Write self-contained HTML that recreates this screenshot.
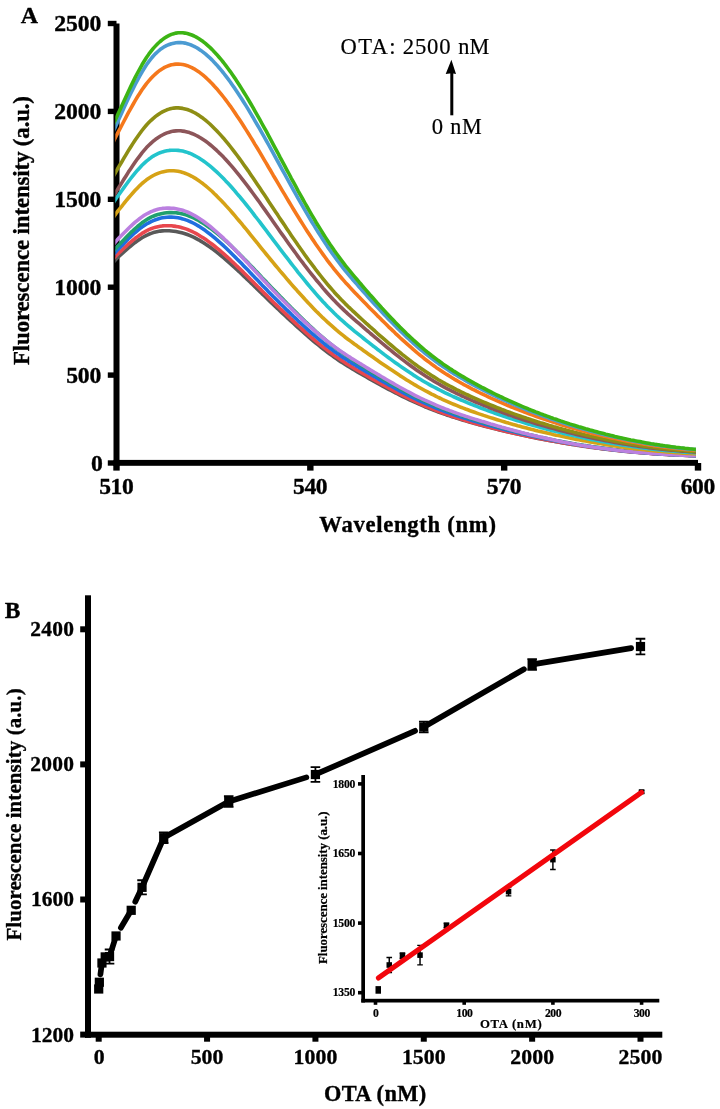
<!DOCTYPE html>
<html lang="en"><head><meta charset="utf-8"><title>Fluorescence spectra and OTA calibration</title>
<style>html,body{margin:0;padding:0;background:#fff}body{width:720px;height:1109px;overflow:hidden}svg{display:block}</style>
</head><body>
<svg width="720" height="1109" viewBox="0 0 720 1109" font-family="'Liberation Serif', serif" fill="#000">
<defs><clipPath id="clipA"><rect x="115.3" y="0" width="580.6" height="470"/></clipPath></defs>
<rect x="113.5" y="23.5" width="6" height="442.3" fill="#000"/>
<rect x="113.5" y="459.9" width="584.5" height="5.9" fill="#000"/>
<rect x="107.8" y="460.30" width="8.7" height="5.4" fill="#000"/>
<rect x="107.8" y="372.40" width="8.7" height="5.4" fill="#000"/>
<rect x="107.8" y="284.50" width="8.7" height="5.4" fill="#000"/>
<rect x="107.8" y="196.60" width="8.7" height="5.4" fill="#000"/>
<rect x="107.8" y="108.70" width="8.7" height="5.4" fill="#000"/>
<rect x="107.8" y="20.80" width="8.7" height="5.4" fill="#000"/>
<rect x="113.30" y="463" width="6.4" height="7.6" fill="#000"/>
<rect x="307.13" y="463" width="6.4" height="7.6" fill="#000"/>
<rect x="500.97" y="463" width="6.4" height="7.6" fill="#000"/>
<rect x="694.80" y="463" width="6.4" height="7.6" fill="#000"/>
<path d="M112.6,263.3 L114.9,260.4 L117.1,258.1 L119.4,256.0 L121.7,253.9 L123.9,251.9 L126.2,249.9 L128.4,247.9 L130.7,246.0 L133.0,244.2 L135.2,242.4 L137.5,240.8 L139.8,239.2 L142.0,237.8 L144.3,236.5 L146.5,235.3 L148.8,234.3 L151.1,233.4 L153.3,232.6 L155.6,232.0 L157.9,231.5 L160.1,231.1 L162.4,230.9 L164.6,230.8 L166.9,230.7 L169.2,230.8 L171.4,231.0 L173.7,231.2 L176.0,231.6 L178.2,232.0 L180.5,232.5 L182.7,233.1 L185.0,233.7 L187.3,234.5 L189.5,235.4 L191.8,236.4 L194.1,237.4 L196.3,238.6 L198.6,239.8 L200.8,241.1 L203.1,242.5 L205.4,244.0 L207.6,245.5 L209.9,247.1 L212.2,248.7 L214.4,250.4 L216.7,252.1 L218.9,253.9 L221.2,255.8 L223.5,257.7 L225.7,259.6 L228.0,261.6 L230.3,263.6 L232.5,265.6 L234.8,267.6 L237.0,269.7 L239.3,271.8 L241.6,274.0 L243.8,276.1 L246.1,278.3 L248.4,280.4 L250.6,282.6 L252.9,284.8 L255.1,287.0 L257.4,289.2 L259.7,291.4 L261.9,293.6 L264.2,295.8 L266.5,298.0 L268.7,300.2 L271.0,302.4 L273.2,304.5 L275.5,306.7 L277.8,308.8 L280.0,310.9 L282.3,313.1 L284.6,315.2 L286.8,317.3 L289.1,319.4 L291.3,321.5 L293.6,323.5 L295.9,325.6 L298.1,327.7 L300.4,329.7 L302.7,331.7 L304.9,333.7 L307.2,335.7 L309.4,337.7 L311.7,339.6 L314.0,341.5 L316.2,343.4 L318.5,345.2 L320.8,347.0 L323.0,348.8 L325.3,350.6 L327.5,352.3 L329.8,354.0 L332.1,355.6 L334.3,357.2 L336.6,358.8 L338.9,360.4 L341.1,361.9 L343.4,363.3 L345.6,364.8 L347.9,366.2 L350.2,367.5 L352.4,368.9 L354.7,370.2 L357.0,371.6 L359.2,372.9 L361.5,374.2 L363.7,375.5 L366.0,376.8 L368.3,378.1 L370.5,379.4 L372.8,380.6 L375.1,381.9 L377.3,383.2 L379.6,384.4 L381.8,385.6 L384.1,386.9 L386.4,388.1 L388.6,389.3 L390.9,390.5 L393.2,391.7 L395.4,392.9 L397.7,394.0 L399.9,395.2 L402.2,396.3 L404.5,397.4 L406.7,398.5 L409.0,399.6 L411.3,400.7 L413.5,401.7 L415.8,402.7 L418.0,403.7 L420.3,404.7 L422.6,405.7 L424.8,406.7 L427.1,407.6 L429.4,408.5 L431.6,409.4 L433.9,410.3 L436.1,411.1 L438.4,412.0 L440.7,412.8 L442.9,413.6 L445.2,414.4 L447.5,415.2 L449.7,415.9 L452.0,416.7 L454.2,417.4 L456.5,418.1 L458.8,418.8 L461.0,419.5 L463.3,420.2 L465.6,420.8 L467.8,421.5 L470.1,422.2 L472.3,422.8 L474.6,423.4 L476.9,424.0 L479.1,424.7 L481.4,425.3 L483.7,425.9 L485.9,426.5 L488.2,427.0 L490.4,427.6 L492.7,428.2 L495.0,428.8 L497.2,429.3 L499.5,429.9 L501.8,430.4 L504.0,431.0 L506.3,431.5 L508.5,432.0 L510.8,432.6 L513.1,433.1 L515.3,433.6 L517.6,434.1 L519.9,434.6 L522.1,435.1 L524.4,435.6 L526.6,436.1 L528.9,436.5 L531.2,437.0 L533.4,437.5 L535.7,437.9 L538.0,438.4 L540.2,438.8 L542.5,439.3 L544.7,439.7 L547.0,440.1 L549.3,440.5 L551.5,440.9 L553.8,441.3 L556.1,441.7 L558.3,442.1 L560.6,442.5 L562.8,442.9 L565.1,443.3 L567.4,443.7 L569.6,444.0 L571.9,444.4 L574.2,444.7 L576.4,445.1 L578.7,445.4 L580.9,445.8 L583.2,446.1 L585.5,446.4 L587.7,446.8 L590.0,447.1 L592.3,447.4 L594.5,447.7 L596.8,448.0 L599.0,448.3 L601.3,448.6 L603.6,448.9 L605.8,449.2 L608.1,449.4 L610.4,449.7 L612.6,450.0 L614.9,450.2 L617.1,450.5 L619.4,450.7 L621.7,451.0 L623.9,451.2 L626.2,451.4 L628.5,451.6 L630.7,451.9 L633.0,452.1 L635.2,452.3 L637.5,452.5 L639.8,452.6 L642.0,452.8 L644.3,453.0 L646.6,453.2 L648.8,453.3 L651.1,453.5 L653.3,453.6 L655.6,453.8 L657.9,453.9 L660.1,454.1 L662.4,454.2 L664.7,454.4 L666.9,454.5 L669.2,454.6 L671.4,454.7 L673.7,454.8 L676.0,455.0 L678.2,455.1 L680.5,455.2 L682.8,455.3 L685.0,455.4 L687.3,455.4 L689.5,455.5 L691.8,455.6 L694.1,455.7 L696.3,455.8 L698.6,455.9" fill="none" stroke="#595959" stroke-width="3.6" stroke-linejoin="round" stroke-linecap="butt" clip-path="url(#clipA)"/>
<path d="M112.6,259.9 L114.9,257.0 L117.1,254.6 L119.4,252.4 L121.7,250.3 L123.9,248.2 L126.2,246.1 L128.4,244.0 L130.7,242.1 L133.0,240.1 L135.2,238.3 L137.5,236.6 L139.8,234.9 L142.0,233.4 L144.3,232.1 L146.5,230.8 L148.8,229.7 L151.1,228.7 L153.3,227.9 L155.6,227.2 L157.9,226.7 L160.1,226.3 L162.4,225.9 L164.6,225.8 L166.9,225.7 L169.2,225.7 L171.4,225.8 L173.7,226.1 L176.0,226.4 L178.2,226.8 L180.5,227.3 L182.7,227.9 L185.0,228.6 L187.3,229.4 L189.5,230.4 L191.8,231.4 L194.1,232.5 L196.3,233.7 L198.6,235.0 L200.8,236.4 L203.1,237.8 L205.4,239.3 L207.6,240.9 L209.9,242.6 L212.2,244.3 L214.4,246.0 L216.7,247.9 L218.9,249.7 L221.2,251.7 L223.5,253.6 L225.7,255.6 L228.0,257.7 L230.3,259.7 L232.5,261.9 L234.8,264.0 L237.0,266.2 L239.3,268.3 L241.6,270.5 L243.8,272.8 L246.1,275.0 L248.4,277.2 L250.6,279.5 L252.9,281.7 L255.1,284.0 L257.4,286.3 L259.7,288.5 L261.9,290.8 L264.2,293.1 L266.5,295.3 L268.7,297.5 L271.0,299.8 L273.2,302.0 L275.5,304.2 L277.8,306.3 L280.0,308.5 L282.3,310.6 L284.6,312.8 L286.8,314.9 L289.1,317.1 L291.3,319.2 L293.6,321.3 L295.9,323.4 L298.1,325.5 L300.4,327.5 L302.7,329.6 L304.9,331.6 L307.2,333.6 L309.4,335.6 L311.7,337.6 L314.0,339.5 L316.2,341.4 L318.5,343.3 L320.8,345.1 L323.0,346.9 L325.3,348.7 L327.5,350.4 L329.8,352.1 L332.1,353.8 L334.3,355.5 L336.6,357.1 L338.9,358.6 L341.1,360.1 L343.4,361.6 L345.6,363.1 L347.9,364.5 L350.2,365.9 L352.4,367.3 L354.7,368.6 L357.0,370.0 L359.2,371.3 L361.5,372.6 L363.7,373.9 L366.0,375.3 L368.3,376.6 L370.5,377.9 L372.8,379.2 L375.1,380.5 L377.3,381.7 L379.6,383.0 L381.8,384.3 L384.1,385.5 L386.4,386.8 L388.6,388.0 L390.9,389.2 L393.2,390.4 L395.4,391.6 L397.7,392.8 L399.9,393.9 L402.2,395.1 L404.5,396.2 L406.7,397.4 L409.0,398.5 L411.3,399.6 L413.5,400.6 L415.8,401.7 L418.0,402.7 L420.3,403.8 L422.6,404.8 L424.8,405.8 L427.1,406.7 L429.4,407.7 L431.6,408.6 L433.9,409.5 L436.1,410.4 L438.4,411.3 L440.7,412.1 L442.9,413.0 L445.2,413.8 L447.5,414.6 L449.7,415.4 L452.0,416.2 L454.2,416.9 L456.5,417.7 L458.8,418.4 L461.0,419.1 L463.3,419.8 L465.6,420.5 L467.8,421.2 L470.1,421.8 L472.3,422.5 L474.6,423.2 L476.9,423.8 L479.1,424.4 L481.4,425.0 L483.7,425.6 L485.9,426.3 L488.2,426.9 L490.4,427.4 L492.7,428.0 L495.0,428.6 L497.2,429.2 L499.5,429.7 L501.8,430.3 L504.0,430.8 L506.3,431.4 L508.5,431.9 L510.8,432.4 L513.1,433.0 L515.3,433.5 L517.6,434.0 L519.9,434.5 L522.1,435.0 L524.4,435.5 L526.6,435.9 L528.9,436.4 L531.2,436.9 L533.4,437.3 L535.7,437.8 L538.0,438.2 L540.2,438.7 L542.5,439.1 L544.7,439.6 L547.0,440.0 L549.3,440.4 L551.5,440.8 L553.8,441.2 L556.1,441.6 L558.3,442.0 L560.6,442.4 L562.8,442.8 L565.1,443.2 L567.4,443.5 L569.6,443.9 L571.9,444.2 L574.2,444.6 L576.4,445.0 L578.7,445.3 L580.9,445.6 L583.2,446.0 L585.5,446.3 L587.7,446.6 L590.0,446.9 L592.3,447.2 L594.5,447.6 L596.8,447.9 L599.0,448.2 L601.3,448.4 L603.6,448.7 L605.8,449.0 L608.1,449.3 L610.4,449.6 L612.6,449.8 L614.9,450.1 L617.1,450.3 L619.4,450.6 L621.7,450.8 L623.9,451.1 L626.2,451.3 L628.5,451.5 L630.7,451.7 L633.0,451.9 L635.2,452.2 L637.5,452.3 L639.8,452.5 L642.0,452.7 L644.3,452.9 L646.6,453.1 L648.8,453.2 L651.1,453.4 L653.3,453.6 L655.6,453.7 L657.9,453.9 L660.1,454.0 L662.4,454.1 L664.7,454.3 L666.9,454.4 L669.2,454.5 L671.4,454.6 L673.7,454.8 L676.0,454.9 L678.2,455.0 L680.5,455.1 L682.8,455.2 L685.0,455.3 L687.3,455.4 L689.5,455.5 L691.8,455.5 L694.1,455.6 L696.3,455.7 L698.6,455.8" fill="none" stroke="#E8474E" stroke-width="3.6" stroke-linejoin="round" stroke-linecap="butt" clip-path="url(#clipA)"/>
<path d="M112.6,255.9 L114.9,252.9 L117.1,250.3 L119.4,248.0 L121.7,245.7 L123.9,243.4 L126.2,241.1 L128.4,238.8 L130.7,236.6 L133.0,234.5 L135.2,232.5 L137.5,230.6 L139.8,228.7 L142.0,227.0 L144.3,225.5 L146.5,224.0 L148.8,222.8 L151.1,221.6 L153.3,220.6 L155.6,219.7 L157.9,219.0 L160.1,218.3 L162.4,217.8 L164.6,217.5 L166.9,217.2 L169.2,217.1 L171.4,217.1 L173.7,217.2 L176.0,217.5 L178.2,217.8 L180.5,218.3 L182.7,218.9 L185.0,219.6 L187.3,220.4 L189.5,221.3 L191.8,222.4 L194.1,223.5 L196.3,224.8 L198.6,226.1 L200.8,227.5 L203.1,229.0 L205.4,230.6 L207.6,232.3 L209.9,234.0 L212.2,235.8 L214.4,237.7 L216.7,239.6 L218.9,241.6 L221.2,243.6 L223.5,245.7 L225.7,247.8 L228.0,250.0 L230.3,252.2 L232.5,254.4 L234.8,256.7 L237.0,259.0 L239.3,261.3 L241.6,263.6 L243.8,265.9 L246.1,268.3 L248.4,270.6 L250.6,273.0 L252.9,275.4 L255.1,277.8 L257.4,280.1 L259.7,282.5 L261.9,284.9 L264.2,287.2 L266.5,289.6 L268.7,291.9 L271.0,294.2 L273.2,296.5 L275.5,298.8 L277.8,301.1 L280.0,303.3 L282.3,305.5 L284.6,307.7 L286.8,309.9 L289.1,312.1 L291.3,314.3 L293.6,316.5 L295.9,318.6 L298.1,320.8 L300.4,322.9 L302.7,325.0 L304.9,327.0 L307.2,329.1 L309.4,331.1 L311.7,333.1 L314.0,335.1 L316.2,337.0 L318.5,338.9 L320.8,340.8 L323.0,342.7 L325.3,344.5 L327.5,346.3 L329.8,348.0 L332.1,349.7 L334.3,351.4 L336.6,353.0 L338.9,354.6 L341.1,356.2 L343.4,357.7 L345.6,359.1 L347.9,360.6 L350.2,362.0 L352.4,363.4 L354.7,364.8 L357.0,366.2 L359.2,367.6 L361.5,368.9 L363.7,370.3 L366.0,371.6 L368.3,373.0 L370.5,374.3 L372.8,375.6 L375.1,377.0 L377.3,378.3 L379.6,379.6 L381.8,380.9 L384.1,382.2 L386.4,383.5 L388.6,384.8 L390.9,386.0 L393.2,387.3 L395.4,388.5 L397.7,389.7 L399.9,391.0 L402.2,392.2 L404.5,393.3 L406.7,394.5 L409.0,395.7 L411.3,396.8 L413.5,397.9 L415.8,399.0 L418.0,400.1 L420.3,401.2 L422.6,402.2 L424.8,403.2 L427.1,404.2 L429.4,405.2 L431.6,406.1 L433.9,407.1 L436.1,408.0 L438.4,408.9 L440.7,409.8 L442.9,410.6 L445.2,411.5 L447.5,412.3 L449.7,413.1 L452.0,413.9 L454.2,414.7 L456.5,415.5 L458.8,416.2 L461.0,417.0 L463.3,417.7 L465.6,418.4 L467.8,419.1 L470.1,419.8 L472.3,420.5 L474.6,421.2 L476.9,421.8 L479.1,422.5 L481.4,423.1 L483.7,423.8 L485.9,424.4 L488.2,425.0 L490.4,425.7 L492.7,426.3 L495.0,426.9 L497.2,427.5 L499.5,428.1 L501.8,428.7 L504.0,429.3 L506.3,429.9 L508.5,430.4 L510.8,431.0 L513.1,431.6 L515.3,432.1 L517.6,432.7 L519.9,433.2 L522.1,433.7 L524.4,434.3 L526.6,434.8 L528.9,435.3 L531.2,435.8 L533.4,436.3 L535.7,436.8 L538.0,437.3 L540.2,437.7 L542.5,438.2 L544.7,438.7 L547.0,439.1 L549.3,439.6 L551.5,440.0 L553.8,440.5 L556.1,440.9 L558.3,441.3 L560.6,441.7 L562.8,442.1 L565.1,442.5 L567.4,442.9 L569.6,443.3 L571.9,443.7 L574.2,444.1 L576.4,444.5 L578.7,444.8 L580.9,445.2 L583.2,445.5 L585.5,445.9 L587.7,446.2 L590.0,446.5 L592.3,446.9 L594.5,447.2 L596.8,447.5 L599.0,447.8 L601.3,448.1 L603.6,448.4 L605.8,448.7 L608.1,449.0 L610.4,449.3 L612.6,449.6 L614.9,449.8 L617.1,450.1 L619.4,450.3 L621.7,450.6 L623.9,450.8 L626.2,451.1 L628.5,451.3 L630.7,451.5 L633.0,451.7 L635.2,451.9 L637.5,452.1 L639.8,452.3 L642.0,452.5 L644.3,452.7 L646.6,452.9 L648.8,453.1 L651.1,453.2 L653.3,453.4 L655.6,453.6 L657.9,453.7 L660.1,453.9 L662.4,454.0 L664.7,454.1 L666.9,454.3 L669.2,454.4 L671.4,454.5 L673.7,454.7 L676.0,454.8 L678.2,454.9 L680.5,455.0 L682.8,455.1 L685.0,455.2 L687.3,455.3 L689.5,455.4 L691.8,455.5 L694.1,455.6 L696.3,455.6 L698.6,455.7" fill="none" stroke="#1F6FE0" stroke-width="3.6" stroke-linejoin="round" stroke-linecap="butt" clip-path="url(#clipA)"/>
<path d="M112.6,252.5 L114.9,249.4 L117.1,246.8 L119.4,244.4 L121.7,242.0 L123.9,239.7 L126.2,237.3 L128.4,235.0 L130.7,232.7 L133.0,230.6 L135.2,228.5 L137.5,226.5 L139.8,224.6 L142.0,222.8 L144.3,221.2 L146.5,219.8 L148.8,218.4 L151.1,217.2 L153.3,216.2 L155.6,215.3 L157.9,214.5 L160.1,213.9 L162.4,213.4 L164.6,213.0 L166.9,212.7 L169.2,212.6 L171.4,212.6 L173.7,212.7 L176.0,212.8 L178.2,213.1 L180.5,213.5 L182.7,214.0 L185.0,214.6 L187.3,215.4 L189.5,216.2 L191.8,217.1 L194.1,218.2 L196.3,219.3 L198.6,220.5 L200.8,221.9 L203.1,223.3 L205.4,224.7 L207.6,226.3 L209.9,227.9 L212.2,229.6 L214.4,231.3 L216.7,233.1 L218.9,235.0 L221.2,236.9 L223.5,238.9 L225.7,240.9 L228.0,243.0 L230.3,245.1 L232.5,247.3 L234.8,249.5 L237.0,251.7 L239.3,253.9 L241.6,256.2 L243.8,258.5 L246.1,260.8 L248.4,263.1 L250.6,265.5 L252.9,267.8 L255.1,270.2 L257.4,272.6 L259.7,275.0 L261.9,277.4 L264.2,279.7 L266.5,282.1 L268.7,284.5 L271.0,286.9 L273.2,289.2 L275.5,291.6 L277.8,293.9 L280.0,296.3 L282.3,298.6 L284.6,300.9 L286.8,303.2 L289.1,305.5 L291.3,307.8 L293.6,310.1 L295.9,312.3 L298.1,314.6 L300.4,316.8 L302.7,319.0 L304.9,321.2 L307.2,323.4 L309.4,325.5 L311.7,327.6 L314.0,329.7 L316.2,331.8 L318.5,333.8 L320.8,335.8 L323.0,337.7 L325.3,339.6 L327.5,341.5 L329.8,343.4 L332.1,345.2 L334.3,347.0 L336.6,348.7 L338.9,350.4 L341.1,352.0 L343.4,353.6 L345.6,355.2 L347.9,356.7 L350.2,358.2 L352.4,359.7 L354.7,361.2 L357.0,362.6 L359.2,364.1 L361.5,365.5 L363.7,366.9 L366.0,368.3 L368.3,369.8 L370.5,371.2 L372.8,372.6 L375.1,373.9 L377.3,375.3 L379.6,376.7 L381.8,378.1 L384.1,379.4 L386.4,380.7 L388.6,382.1 L390.9,383.4 L393.2,384.7 L395.4,386.0 L397.7,387.2 L399.9,388.5 L402.2,389.7 L404.5,391.0 L406.7,392.2 L409.0,393.4 L411.3,394.5 L413.5,395.7 L415.8,396.8 L418.0,398.0 L420.3,399.1 L422.6,400.1 L424.8,401.2 L427.1,402.2 L429.4,403.2 L431.6,404.2 L433.9,405.2 L436.1,406.1 L438.4,407.1 L440.7,408.0 L442.9,408.9 L445.2,409.8 L447.5,410.6 L449.7,411.5 L452.0,412.3 L454.2,413.1 L456.5,413.9 L458.8,414.7 L461.0,415.4 L463.3,416.2 L465.6,416.9 L467.8,417.7 L470.1,418.4 L472.3,419.1 L474.6,419.8 L476.9,420.5 L479.1,421.2 L481.4,421.8 L483.7,422.5 L485.9,423.2 L488.2,423.8 L490.4,424.5 L492.7,425.1 L495.0,425.8 L497.2,426.4 L499.5,427.0 L501.8,427.7 L504.0,428.3 L506.3,428.9 L508.5,429.5 L510.8,430.1 L513.1,430.7 L515.3,431.2 L517.6,431.8 L519.9,432.4 L522.1,432.9 L524.4,433.5 L526.6,434.0 L528.9,434.6 L531.2,435.1 L533.4,435.6 L535.7,436.1 L538.0,436.7 L540.2,437.2 L542.5,437.6 L544.7,438.1 L547.0,438.6 L549.3,439.1 L551.5,439.5 L553.8,440.0 L556.1,440.5 L558.3,440.9 L560.6,441.3 L562.8,441.8 L565.1,442.2 L567.4,442.6 L569.6,443.0 L571.9,443.4 L574.2,443.8 L576.4,444.2 L578.7,444.5 L580.9,444.9 L583.2,445.3 L585.5,445.6 L587.7,446.0 L590.0,446.3 L592.3,446.7 L594.5,447.0 L596.8,447.3 L599.0,447.6 L601.3,448.0 L603.6,448.3 L605.8,448.6 L608.1,448.9 L610.4,449.1 L612.6,449.4 L614.9,449.7 L617.1,449.9 L619.4,450.2 L621.7,450.5 L623.9,450.7 L626.2,450.9 L628.5,451.2 L630.7,451.4 L633.0,451.6 L635.2,451.8 L637.5,452.0 L639.8,452.2 L642.0,452.4 L644.3,452.6 L646.6,452.8 L648.8,453.0 L651.1,453.2 L653.3,453.3 L655.6,453.5 L657.9,453.7 L660.1,453.8 L662.4,454.0 L664.7,454.1 L666.9,454.2 L669.2,454.4 L671.4,454.5 L673.7,454.6 L676.0,454.7 L678.2,454.9 L680.5,455.0 L682.8,455.1 L685.0,455.2 L687.3,455.3 L689.5,455.4 L691.8,455.5 L694.1,455.6 L696.3,455.6 L698.6,455.7" fill="none" stroke="#1FA06E" stroke-width="3.6" stroke-linejoin="round" stroke-linecap="butt" clip-path="url(#clipA)"/>
<path d="M112.6,245.7 L114.9,242.6 L117.1,240.0 L119.4,237.6 L121.7,235.3 L123.9,233.0 L126.2,230.7 L128.4,228.5 L130.7,226.3 L133.0,224.2 L135.2,222.2 L137.5,220.3 L139.8,218.5 L142.0,216.9 L144.3,215.3 L146.5,214.0 L148.8,212.8 L151.1,211.7 L153.3,210.8 L155.6,210.0 L157.9,209.3 L160.1,208.8 L162.4,208.4 L164.6,208.2 L166.9,208.1 L169.2,208.1 L171.4,208.2 L173.7,208.4 L176.0,208.7 L178.2,209.2 L180.5,209.7 L182.7,210.3 L185.0,211.1 L187.3,212.0 L189.5,213.0 L191.8,214.1 L194.1,215.3 L196.3,216.6 L198.6,218.0 L200.8,219.5 L203.1,221.0 L205.4,222.7 L207.6,224.4 L209.9,226.2 L212.2,228.1 L214.4,230.0 L216.7,232.0 L218.9,234.0 L221.2,236.1 L223.5,238.2 L225.7,240.4 L228.0,242.6 L230.3,244.9 L232.5,247.2 L234.8,249.5 L237.0,251.8 L239.3,254.2 L241.6,256.6 L243.8,259.0 L246.1,261.4 L248.4,263.8 L250.6,266.3 L252.9,268.7 L255.1,271.1 L257.4,273.6 L259.7,276.0 L261.9,278.5 L264.2,280.9 L266.5,283.3 L268.7,285.7 L271.0,288.1 L273.2,290.5 L275.5,292.8 L277.8,295.2 L280.0,297.5 L282.3,299.8 L284.6,302.1 L286.8,304.3 L289.1,306.6 L291.3,308.8 L293.6,311.1 L295.9,313.3 L298.1,315.5 L300.4,317.6 L302.7,319.8 L304.9,321.9 L307.2,324.0 L309.4,326.0 L311.7,328.1 L314.0,330.1 L316.2,332.0 L318.5,334.0 L320.8,335.9 L323.0,337.8 L325.3,339.6 L327.5,341.4 L329.8,343.2 L332.1,344.9 L334.3,346.6 L336.6,348.3 L338.9,349.9 L341.1,351.5 L343.4,353.0 L345.6,354.5 L347.9,356.0 L350.2,357.4 L352.4,358.9 L354.7,360.3 L357.0,361.7 L359.2,363.1 L361.5,364.4 L363.7,365.8 L366.0,367.2 L368.3,368.6 L370.5,370.0 L372.8,371.4 L375.1,372.7 L377.3,374.1 L379.6,375.4 L381.8,376.8 L384.1,378.1 L386.4,379.5 L388.6,380.8 L390.9,382.1 L393.2,383.4 L395.4,384.7 L397.7,386.0 L399.9,387.3 L402.2,388.5 L404.5,389.8 L406.7,391.0 L409.0,392.2 L411.3,393.4 L413.5,394.6 L415.8,395.8 L418.0,396.9 L420.3,398.0 L422.6,399.1 L424.8,400.2 L427.1,401.2 L429.4,402.2 L431.6,403.2 L433.9,404.2 L436.1,405.2 L438.4,406.1 L440.7,407.1 L442.9,408.0 L445.2,408.9 L447.5,409.7 L449.7,410.6 L452.0,411.4 L454.2,412.3 L456.5,413.1 L458.8,413.9 L461.0,414.7 L463.3,415.4 L465.6,416.2 L467.8,416.9 L470.1,417.7 L472.3,418.4 L474.6,419.1 L476.9,419.8 L479.1,420.5 L481.4,421.2 L483.7,421.8 L485.9,422.5 L488.2,423.2 L490.4,423.9 L492.7,424.5 L495.0,425.2 L497.2,425.9 L499.5,426.5 L501.8,427.2 L504.0,427.8 L506.3,428.4 L508.5,429.1 L510.8,429.7 L513.1,430.3 L515.3,430.9 L517.6,431.5 L519.9,432.1 L522.1,432.7 L524.4,433.3 L526.6,433.8 L528.9,434.4 L531.2,434.9 L533.4,435.5 L535.7,436.0 L538.0,436.6 L540.2,437.1 L542.5,437.6 L544.7,438.1 L547.0,438.6 L549.3,439.1 L551.5,439.6 L553.8,440.1 L556.1,440.5 L558.3,441.0 L560.6,441.4 L562.8,441.9 L565.1,442.3 L567.4,442.7 L569.6,443.2 L571.9,443.6 L574.2,444.0 L576.4,444.4 L578.7,444.8 L580.9,445.2 L583.2,445.5 L585.5,445.9 L587.7,446.2 L590.0,446.6 L592.3,446.9 L594.5,447.3 L596.8,447.6 L599.0,447.9 L601.3,448.2 L603.6,448.5 L605.8,448.8 L608.1,449.1 L610.4,449.4 L612.6,449.7 L614.9,449.9 L617.1,450.2 L619.4,450.5 L621.7,450.7 L623.9,451.0 L626.2,451.2 L628.5,451.4 L630.7,451.6 L633.0,451.9 L635.2,452.1 L637.5,452.3 L639.8,452.5 L642.0,452.7 L644.3,452.8 L646.6,453.0 L648.8,453.2 L651.1,453.4 L653.3,453.5 L655.6,453.7 L657.9,453.8 L660.1,454.0 L662.4,454.1 L664.7,454.3 L666.9,454.4 L669.2,454.5 L671.4,454.7 L673.7,454.8 L676.0,454.9 L678.2,455.0 L680.5,455.1 L682.8,455.2 L685.0,455.3 L687.3,455.4 L689.5,455.5 L691.8,455.6 L694.1,455.7 L696.3,455.8 L698.6,455.9" fill="none" stroke="#BB80E0" stroke-width="3.6" stroke-linejoin="round" stroke-linecap="butt" clip-path="url(#clipA)"/>
<path d="M112.6,218.6 L114.9,215.1 L117.1,212.0 L119.4,209.2 L121.7,206.4 L123.9,203.5 L126.2,200.7 L128.4,198.0 L130.7,195.3 L133.0,192.7 L135.2,190.3 L137.5,187.9 L139.8,185.6 L142.0,183.5 L144.3,181.6 L146.5,179.8 L148.8,178.2 L151.1,176.8 L153.3,175.5 L155.6,174.4 L157.9,173.4 L160.1,172.6 L162.4,171.9 L164.6,171.4 L166.9,171.0 L169.2,170.8 L171.4,170.7 L173.7,170.8 L176.0,171.0 L178.2,171.3 L180.5,171.8 L182.7,172.4 L185.0,173.2 L187.3,174.1 L189.5,175.1 L191.8,176.3 L194.1,177.6 L196.3,178.9 L198.6,180.5 L200.8,182.1 L203.1,183.8 L205.4,185.6 L207.6,187.5 L209.9,189.5 L212.2,191.5 L214.4,193.7 L216.7,195.9 L218.9,198.2 L221.2,200.5 L223.5,202.9 L225.7,205.4 L228.0,207.9 L230.3,210.4 L232.5,213.0 L234.8,215.7 L237.0,218.3 L239.3,221.0 L241.6,223.7 L243.8,226.5 L246.1,229.2 L248.4,232.0 L250.6,234.8 L252.9,237.6 L255.1,240.4 L257.4,243.2 L259.7,246.1 L261.9,248.9 L264.2,251.7 L266.5,254.5 L268.7,257.2 L271.0,260.0 L273.2,262.7 L275.5,265.5 L277.8,268.2 L280.0,270.9 L282.3,273.5 L284.6,276.2 L286.8,278.8 L289.1,281.5 L291.3,284.1 L293.6,286.7 L295.9,289.2 L298.1,291.8 L300.4,294.3 L302.7,296.8 L304.9,299.3 L307.2,301.7 L309.4,304.1 L311.7,306.5 L314.0,308.9 L316.2,311.2 L318.5,313.4 L320.8,315.7 L323.0,317.9 L325.3,320.0 L327.5,322.1 L329.8,324.2 L332.1,326.2 L334.3,328.2 L336.6,330.2 L338.9,332.1 L341.1,333.9 L343.4,335.7 L345.6,337.5 L347.9,339.2 L350.2,340.9 L352.4,342.5 L354.7,344.2 L357.0,345.8 L359.2,347.5 L361.5,349.1 L363.7,350.7 L366.0,352.3 L368.3,353.9 L370.5,355.5 L372.8,357.1 L375.1,358.7 L377.3,360.3 L379.6,361.9 L381.8,363.4 L384.1,365.0 L386.4,366.6 L388.6,368.1 L390.9,369.6 L393.2,371.1 L395.4,372.6 L397.7,374.1 L399.9,375.6 L402.2,377.0 L404.5,378.5 L406.7,379.9 L409.0,381.3 L411.3,382.7 L413.5,384.1 L415.8,385.4 L418.0,386.7 L420.3,388.0 L422.6,389.3 L424.8,390.5 L427.1,391.7 L429.4,392.9 L431.6,394.1 L433.9,395.2 L436.1,396.4 L438.4,397.5 L440.7,398.5 L442.9,399.6 L445.2,400.6 L447.5,401.6 L449.7,402.6 L452.0,403.6 L454.2,404.5 L456.5,405.4 L458.8,406.4 L461.0,407.3 L463.3,408.1 L465.6,409.0 L467.8,409.8 L470.1,410.7 L472.3,411.5 L474.6,412.3 L476.9,413.1 L479.1,413.9 L481.4,414.6 L483.7,415.4 L485.9,416.1 L488.2,416.9 L490.4,417.6 L492.7,418.3 L495.0,419.0 L497.2,419.7 L499.5,420.4 L501.8,421.1 L504.0,421.8 L506.3,422.5 L508.5,423.1 L510.8,423.8 L513.1,424.4 L515.3,425.0 L517.6,425.7 L519.9,426.3 L522.1,426.9 L524.4,427.5 L526.6,428.1 L528.9,428.7 L531.2,429.3 L533.4,429.8 L535.7,430.4 L538.0,431.0 L540.2,431.5 L542.5,432.0 L544.7,432.6 L547.0,433.1 L549.3,433.6 L551.5,434.1 L553.8,434.7 L556.1,435.2 L558.3,435.6 L560.6,436.1 L562.8,436.6 L565.1,437.1 L567.4,437.6 L569.6,438.0 L571.9,438.5 L574.2,438.9 L576.4,439.4 L578.7,439.8 L580.9,440.2 L583.2,440.7 L585.5,441.1 L587.7,441.5 L590.0,441.9 L592.3,442.3 L594.5,442.7 L596.8,443.1 L599.0,443.5 L601.3,443.8 L603.6,444.2 L605.8,444.6 L608.1,444.9 L610.4,445.3 L612.6,445.6 L614.9,446.0 L617.1,446.3 L619.4,446.6 L621.7,446.9 L623.9,447.3 L626.2,447.6 L628.5,447.9 L630.7,448.2 L633.0,448.4 L635.2,448.7 L637.5,449.0 L639.8,449.3 L642.0,449.5 L644.3,449.8 L646.6,450.0 L648.8,450.2 L651.1,450.5 L653.3,450.7 L655.6,450.9 L657.9,451.1 L660.1,451.3 L662.4,451.5 L664.7,451.7 L666.9,451.9 L669.2,452.1 L671.4,452.3 L673.7,452.5 L676.0,452.6 L678.2,452.8 L680.5,452.9 L682.8,453.1 L685.0,453.2 L687.3,453.4 L689.5,453.5 L691.8,453.6 L694.1,453.8 L696.3,453.9 L698.6,454.0" fill="none" stroke="#D6A216" stroke-width="3.6" stroke-linejoin="round" stroke-linecap="butt" clip-path="url(#clipA)"/>
<path d="M112.6,204.1 L114.9,200.3 L117.1,197.0 L119.4,193.9 L121.7,190.7 L123.9,187.6 L126.2,184.5 L128.4,181.5 L130.7,178.5 L133.0,175.6 L135.2,172.9 L137.5,170.2 L139.8,167.7 L142.0,165.3 L144.3,163.1 L146.5,161.1 L148.8,159.3 L151.1,157.6 L153.3,156.1 L155.6,154.8 L157.9,153.7 L160.1,152.7 L162.4,151.9 L164.6,151.3 L166.9,150.8 L169.2,150.4 L171.4,150.2 L173.7,150.2 L176.0,150.2 L178.2,150.4 L180.5,150.7 L182.7,151.1 L185.0,151.7 L187.3,152.4 L189.5,153.2 L191.8,154.2 L194.1,155.3 L196.3,156.5 L198.6,157.8 L200.8,159.2 L203.1,160.7 L205.4,162.4 L207.6,164.1 L209.9,165.9 L212.2,167.8 L214.4,169.8 L216.7,171.9 L218.9,174.0 L221.2,176.2 L223.5,178.5 L225.7,180.9 L228.0,183.3 L230.3,185.8 L232.5,188.3 L234.8,190.9 L237.0,193.6 L239.3,196.2 L241.6,199.0 L243.8,201.7 L246.1,204.5 L248.4,207.4 L250.6,210.2 L252.9,213.1 L255.1,216.1 L257.4,219.0 L259.7,221.9 L261.9,224.9 L264.2,227.9 L266.5,230.9 L268.7,233.9 L271.0,236.9 L273.2,239.9 L275.5,242.9 L277.8,245.9 L280.0,248.8 L282.3,251.8 L284.6,254.8 L286.8,257.7 L289.1,260.7 L291.3,263.6 L293.6,266.5 L295.9,269.4 L298.1,272.3 L300.4,275.1 L302.7,277.9 L304.9,280.7 L307.2,283.5 L309.4,286.2 L311.7,288.9 L314.0,291.5 L316.2,294.1 L318.5,296.7 L320.8,299.2 L323.0,301.7 L325.3,304.1 L327.5,306.5 L329.8,308.8 L332.1,311.1 L334.3,313.3 L336.6,315.5 L338.9,317.6 L341.1,319.7 L343.4,321.7 L345.6,323.7 L347.9,325.6 L350.2,327.5 L352.4,329.4 L354.7,331.3 L357.0,333.1 L359.2,334.9 L361.5,336.7 L363.7,338.5 L366.0,340.3 L368.3,342.1 L370.5,343.9 L372.8,345.7 L375.1,347.4 L377.3,349.2 L379.6,350.9 L381.8,352.6 L384.1,354.4 L386.4,356.1 L388.6,357.7 L390.9,359.4 L393.2,361.1 L395.4,362.7 L397.7,364.3 L399.9,365.9 L402.2,367.5 L404.5,369.1 L406.7,370.6 L409.0,372.1 L411.3,373.6 L413.5,375.1 L415.8,376.5 L418.0,377.9 L420.3,379.3 L422.6,380.7 L424.8,382.0 L427.1,383.3 L429.4,384.6 L431.6,385.8 L433.9,387.0 L436.1,388.2 L438.4,389.4 L440.7,390.5 L442.9,391.7 L445.2,392.8 L447.5,393.9 L449.7,394.9 L452.0,396.0 L454.2,397.0 L456.5,398.0 L458.8,399.0 L461.0,400.0 L463.3,400.9 L465.6,401.9 L467.8,402.8 L470.1,403.7 L472.3,404.6 L474.6,405.5 L476.9,406.4 L479.1,407.3 L481.4,408.2 L483.7,409.0 L485.9,409.9 L488.2,410.7 L490.4,411.5 L492.7,412.4 L495.0,413.2 L497.2,414.0 L499.5,414.8 L501.8,415.5 L504.0,416.3 L506.3,417.1 L508.5,417.8 L510.8,418.6 L513.1,419.3 L515.3,420.0 L517.6,420.7 L519.9,421.4 L522.1,422.1 L524.4,422.8 L526.6,423.5 L528.9,424.2 L531.2,424.8 L533.4,425.5 L535.7,426.1 L538.0,426.7 L540.2,427.4 L542.5,428.0 L544.7,428.6 L547.0,429.2 L549.3,429.8 L551.5,430.4 L553.8,431.0 L556.1,431.5 L558.3,432.1 L560.6,432.6 L562.8,433.2 L565.1,433.7 L567.4,434.3 L569.6,434.8 L571.9,435.3 L574.2,435.8 L576.4,436.3 L578.7,436.8 L580.9,437.3 L583.2,437.8 L585.5,438.3 L587.7,438.7 L590.0,439.2 L592.3,439.7 L594.5,440.1 L596.8,440.6 L599.0,441.0 L601.3,441.4 L603.6,441.8 L605.8,442.2 L608.1,442.7 L610.4,443.1 L612.6,443.4 L614.9,443.8 L617.1,444.2 L619.4,444.6 L621.7,444.9 L623.9,445.3 L626.2,445.6 L628.5,446.0 L630.7,446.3 L633.0,446.6 L635.2,447.0 L637.5,447.3 L639.8,447.6 L642.0,447.8 L644.3,448.1 L646.6,448.4 L648.8,448.7 L651.1,448.9 L653.3,449.2 L655.6,449.4 L657.9,449.7 L660.1,449.9 L662.4,450.1 L664.7,450.4 L666.9,450.6 L669.2,450.8 L671.4,451.0 L673.7,451.2 L676.0,451.4 L678.2,451.5 L680.5,451.7 L682.8,451.9 L685.0,452.1 L687.3,452.2 L689.5,452.4 L691.8,452.5 L694.1,452.6 L696.3,452.8 L698.6,452.9" fill="none" stroke="#23C4CC" stroke-width="3.6" stroke-linejoin="round" stroke-linecap="butt" clip-path="url(#clipA)"/>
<path d="M112.6,197.7 L114.9,193.8 L117.1,190.1 L119.4,186.5 L121.7,182.9 L123.9,179.3 L126.2,175.7 L128.4,172.1 L130.7,168.7 L133.0,165.3 L135.2,162.0 L137.5,158.8 L139.8,155.8 L142.0,152.9 L144.3,150.2 L146.5,147.6 L148.8,145.3 L151.1,143.1 L153.3,141.2 L155.6,139.3 L157.9,137.7 L160.1,136.3 L162.4,135.0 L164.6,133.9 L166.9,132.9 L169.2,132.2 L171.4,131.6 L173.7,131.1 L176.0,130.9 L178.2,130.8 L180.5,130.8 L182.7,131.1 L185.0,131.4 L187.3,132.0 L189.5,132.6 L191.8,133.5 L194.1,134.4 L196.3,135.5 L198.6,136.7 L200.8,138.0 L203.1,139.5 L205.4,141.0 L207.6,142.7 L209.9,144.5 L212.2,146.4 L214.4,148.3 L216.7,150.4 L218.9,152.6 L221.2,154.8 L223.5,157.1 L225.7,159.5 L228.0,162.0 L230.3,164.6 L232.5,167.2 L234.8,169.9 L237.0,172.6 L239.3,175.4 L241.6,178.3 L243.8,181.2 L246.1,184.1 L248.4,187.1 L250.6,190.1 L252.9,193.2 L255.1,196.3 L257.4,199.4 L259.7,202.5 L261.9,205.7 L264.2,208.9 L266.5,212.1 L268.7,215.3 L271.0,218.5 L273.2,221.7 L275.5,225.0 L277.8,228.2 L280.0,231.4 L282.3,234.6 L284.6,237.8 L286.8,241.0 L289.1,244.2 L291.3,247.3 L293.6,250.4 L295.9,253.5 L298.1,256.6 L300.4,259.7 L302.7,262.7 L304.9,265.7 L307.2,268.6 L309.4,271.5 L311.7,274.4 L314.0,277.2 L316.2,280.0 L318.5,282.7 L320.8,285.4 L323.0,288.1 L325.3,290.7 L327.5,293.2 L329.8,295.7 L332.1,298.2 L334.3,300.6 L336.6,302.9 L338.9,305.2 L341.1,307.4 L343.4,309.6 L345.6,311.7 L347.9,313.8 L350.2,315.8 L352.4,317.8 L354.7,319.8 L357.0,321.8 L359.2,323.7 L361.5,325.7 L363.7,327.6 L366.0,329.6 L368.3,331.5 L370.5,333.5 L372.8,335.4 L375.1,337.3 L377.3,339.2 L379.6,341.1 L381.8,343.0 L384.1,344.9 L386.4,346.8 L388.6,348.6 L390.9,350.4 L393.2,352.3 L395.4,354.1 L397.7,355.9 L399.9,357.6 L402.2,359.4 L404.5,361.1 L406.7,362.8 L409.0,364.5 L411.3,366.2 L413.5,367.8 L415.8,369.4 L418.0,371.0 L420.3,372.5 L422.6,374.1 L424.8,375.5 L427.1,377.0 L429.4,378.4 L431.6,379.8 L433.9,381.2 L436.1,382.5 L438.4,383.8 L440.7,385.1 L442.9,386.3 L445.2,387.6 L447.5,388.8 L449.7,389.9 L452.0,391.1 L454.2,392.2 L456.5,393.3 L458.8,394.4 L461.0,395.5 L463.3,396.5 L465.6,397.6 L467.8,398.6 L470.1,399.6 L472.3,400.6 L474.6,401.5 L476.9,402.5 L479.1,403.4 L481.4,404.4 L483.7,405.3 L485.9,406.2 L488.2,407.1 L490.4,408.0 L492.7,408.8 L495.0,409.7 L497.2,410.6 L499.5,411.4 L501.8,412.2 L504.0,413.1 L506.3,413.9 L508.5,414.7 L510.8,415.4 L513.1,416.2 L515.3,417.0 L517.6,417.8 L519.9,418.5 L522.1,419.2 L524.4,420.0 L526.6,420.7 L528.9,421.4 L531.2,422.1 L533.4,422.8 L535.7,423.5 L538.0,424.2 L540.2,424.8 L542.5,425.5 L544.7,426.1 L547.0,426.8 L549.3,427.4 L551.5,428.0 L553.8,428.6 L556.1,429.3 L558.3,429.9 L560.6,430.4 L562.8,431.0 L565.1,431.6 L567.4,432.2 L569.6,432.7 L571.9,433.3 L574.2,433.8 L576.4,434.4 L578.7,434.9 L580.9,435.4 L583.2,435.9 L585.5,436.4 L587.7,436.9 L590.0,437.4 L592.3,437.9 L594.5,438.4 L596.8,438.9 L599.0,439.3 L601.3,439.8 L603.6,440.2 L605.8,440.7 L608.1,441.1 L610.4,441.5 L612.6,442.0 L614.9,442.4 L617.1,442.8 L619.4,443.2 L621.7,443.6 L623.9,443.9 L626.2,444.3 L628.5,444.7 L630.7,445.0 L633.0,445.4 L635.2,445.7 L637.5,446.1 L639.8,446.4 L642.0,446.7 L644.3,447.0 L646.6,447.3 L648.8,447.6 L651.1,447.9 L653.3,448.2 L655.6,448.4 L657.9,448.7 L660.1,449.0 L662.4,449.2 L664.7,449.4 L666.9,449.7 L669.2,449.9 L671.4,450.1 L673.7,450.3 L676.0,450.5 L678.2,450.7 L680.5,450.9 L682.8,451.1 L685.0,451.3 L687.3,451.5 L689.5,451.6 L691.8,451.8 L694.1,452.0 L696.3,452.1 L698.6,452.3" fill="none" stroke="#8C5559" stroke-width="3.6" stroke-linejoin="round" stroke-linecap="butt" clip-path="url(#clipA)"/>
<path d="M112.6,177.7 L114.9,173.6 L117.1,169.6 L119.4,165.8 L121.7,162.0 L123.9,158.2 L126.2,154.4 L128.4,150.7 L130.7,147.0 L133.0,143.4 L135.2,140.0 L137.5,136.7 L139.8,133.5 L142.0,130.5 L144.3,127.6 L146.5,125.0 L148.8,122.6 L151.1,120.3 L153.3,118.3 L155.6,116.4 L157.9,114.7 L160.1,113.2 L162.4,111.9 L164.6,110.8 L166.9,109.8 L169.2,109.1 L171.4,108.5 L173.7,108.1 L176.0,107.9 L178.2,107.9 L180.5,108.1 L182.7,108.4 L185.0,108.9 L187.3,109.5 L189.5,110.4 L191.8,111.3 L194.1,112.5 L196.3,113.7 L198.6,115.1 L200.8,116.7 L203.1,118.3 L205.4,120.1 L207.6,122.0 L209.9,124.0 L212.2,126.2 L214.4,128.4 L216.7,130.7 L218.9,133.1 L221.2,135.6 L223.5,138.2 L225.7,140.9 L228.0,143.6 L230.3,146.5 L232.5,149.3 L234.8,152.3 L237.0,155.3 L239.3,158.4 L241.6,161.5 L243.8,164.7 L246.1,167.9 L248.4,171.1 L250.6,174.4 L252.9,177.7 L255.1,181.0 L257.4,184.4 L259.7,187.8 L261.9,191.2 L264.2,194.6 L266.5,198.0 L268.7,201.5 L271.0,204.9 L273.2,208.3 L275.5,211.7 L277.8,215.1 L280.0,218.6 L282.3,221.9 L284.6,225.3 L286.8,228.7 L289.1,232.1 L291.3,235.4 L293.6,238.7 L295.9,242.0 L298.1,245.3 L300.4,248.5 L302.7,251.7 L304.9,254.9 L307.2,258.1 L309.4,261.2 L311.7,264.2 L314.0,267.2 L316.2,270.2 L318.5,273.1 L320.8,276.0 L323.0,278.8 L325.3,281.6 L327.5,284.3 L329.8,287.0 L332.1,289.6 L334.3,292.2 L336.6,294.7 L338.9,297.1 L341.1,299.5 L343.4,301.8 L345.6,304.1 L347.9,306.3 L350.2,308.4 L352.4,310.6 L354.7,312.7 L357.0,314.8 L359.2,316.9 L361.5,319.0 L363.7,321.0 L366.0,323.1 L368.3,325.1 L370.5,327.2 L372.8,329.2 L375.1,331.2 L377.3,333.3 L379.6,335.3 L381.8,337.2 L384.1,339.2 L386.4,341.2 L388.6,343.1 L390.9,345.0 L393.2,346.9 L395.4,348.8 L397.7,350.7 L399.9,352.5 L402.2,354.4 L404.5,356.2 L406.7,357.9 L409.0,359.7 L411.3,361.4 L413.5,363.1 L415.8,364.8 L418.0,366.4 L420.3,368.0 L422.6,369.6 L424.8,371.1 L427.1,372.6 L429.4,374.1 L431.6,375.5 L433.9,376.9 L436.1,378.3 L438.4,379.7 L440.7,381.0 L442.9,382.3 L445.2,383.6 L447.5,384.8 L449.7,386.0 L452.0,387.2 L454.2,388.4 L456.5,389.6 L458.8,390.7 L461.0,391.8 L463.3,392.9 L465.6,394.0 L467.8,395.0 L470.1,396.1 L472.3,397.1 L474.6,398.1 L476.9,399.1 L479.1,400.1 L481.4,401.1 L483.7,402.1 L485.9,403.0 L488.2,404.0 L490.4,404.9 L492.7,405.8 L495.0,406.7 L497.2,407.6 L499.5,408.5 L501.8,409.4 L504.0,410.2 L506.3,411.1 L508.5,411.9 L510.8,412.8 L513.1,413.6 L515.3,414.4 L517.6,415.2 L519.9,416.0 L522.1,416.8 L524.4,417.5 L526.6,418.3 L528.9,419.0 L531.2,419.8 L533.4,420.5 L535.7,421.2 L538.0,422.0 L540.2,422.7 L542.5,423.3 L544.7,424.0 L547.0,424.7 L549.3,425.4 L551.5,426.0 L553.8,426.7 L556.1,427.3 L558.3,428.0 L560.6,428.6 L562.8,429.2 L565.1,429.8 L567.4,430.4 L569.6,431.0 L571.9,431.6 L574.2,432.2 L576.4,432.7 L578.7,433.3 L580.9,433.8 L583.2,434.4 L585.5,434.9 L587.7,435.4 L590.0,436.0 L592.3,436.5 L594.5,437.0 L596.8,437.5 L599.0,438.0 L601.3,438.5 L603.6,438.9 L605.8,439.4 L608.1,439.9 L610.4,440.3 L612.6,440.7 L614.9,441.2 L617.1,441.6 L619.4,442.0 L621.7,442.4 L623.9,442.8 L626.2,443.2 L628.5,443.6 L630.7,444.0 L633.0,444.4 L635.2,444.7 L637.5,445.1 L639.8,445.4 L642.0,445.8 L644.3,446.1 L646.6,446.4 L648.8,446.7 L651.1,447.0 L653.3,447.3 L655.6,447.6 L657.9,447.9 L660.1,448.2 L662.4,448.4 L664.7,448.7 L666.9,449.0 L669.2,449.2 L671.4,449.4 L673.7,449.7 L676.0,449.9 L678.2,450.1 L680.5,450.3 L682.8,450.5 L685.0,450.7 L687.3,450.9 L689.5,451.1 L691.8,451.2 L694.1,451.4 L696.3,451.6 L698.6,451.7" fill="none" stroke="#8E8E14" stroke-width="3.6" stroke-linejoin="round" stroke-linecap="butt" clip-path="url(#clipA)"/>
<path d="M112.6,143.2 L114.9,138.5 L117.1,134.1 L119.4,129.8 L121.7,125.5 L123.9,121.2 L126.2,116.9 L128.4,112.7 L130.7,108.6 L133.0,104.5 L135.2,100.6 L137.5,96.8 L139.8,93.2 L142.0,89.8 L144.3,86.6 L146.5,83.6 L148.8,80.9 L151.1,78.3 L153.3,76.0 L155.6,73.9 L157.9,71.9 L160.1,70.2 L162.4,68.7 L164.6,67.4 L166.9,66.4 L169.2,65.5 L171.4,64.8 L173.7,64.4 L176.0,64.1 L178.2,64.0 L180.5,64.2 L182.7,64.5 L185.0,65.0 L187.3,65.7 L189.5,66.6 L191.8,67.6 L194.1,68.8 L196.3,70.2 L198.6,71.7 L200.8,73.4 L203.1,75.2 L205.4,77.1 L207.6,79.2 L209.9,81.4 L212.2,83.7 L214.4,86.2 L216.7,88.7 L218.9,91.4 L221.2,94.1 L223.5,97.0 L225.7,99.9 L228.0,103.0 L230.3,106.1 L232.5,109.3 L234.8,112.6 L237.0,115.9 L239.3,119.3 L241.6,122.8 L243.8,126.3 L246.1,129.9 L248.4,133.5 L250.6,137.1 L252.9,140.8 L255.1,144.6 L257.4,148.3 L259.7,152.1 L261.9,155.9 L264.2,159.8 L266.5,163.6 L268.7,167.5 L271.0,171.3 L273.2,175.2 L275.5,179.0 L277.8,182.9 L280.0,186.7 L282.3,190.6 L284.6,194.4 L286.8,198.2 L289.1,202.0 L291.3,205.7 L293.6,209.5 L295.9,213.2 L298.1,216.8 L300.4,220.5 L302.7,224.1 L304.9,227.6 L307.2,231.2 L309.4,234.6 L311.7,238.1 L314.0,241.4 L316.2,244.8 L318.5,248.0 L320.8,251.3 L323.0,254.4 L325.3,257.5 L327.5,260.6 L329.8,263.6 L332.1,266.5 L334.3,269.4 L336.6,272.2 L338.9,274.9 L341.1,277.5 L343.4,280.1 L345.6,282.7 L347.9,285.1 L350.2,287.6 L352.4,290.0 L354.7,292.4 L357.0,294.7 L359.2,297.1 L361.5,299.4 L363.7,301.7 L366.0,304.1 L368.3,306.4 L370.5,308.7 L372.8,311.0 L375.1,313.3 L377.3,315.6 L379.6,317.8 L381.8,320.1 L384.1,322.3 L386.4,324.5 L388.6,326.8 L390.9,328.9 L393.2,331.1 L395.4,333.3 L397.7,335.4 L399.9,337.5 L402.2,339.6 L404.5,341.7 L406.7,343.7 L409.0,345.7 L411.3,347.7 L413.5,349.7 L415.8,351.6 L418.0,353.5 L420.3,355.4 L422.6,357.2 L424.8,359.0 L427.1,360.7 L429.4,362.4 L431.6,364.1 L433.9,365.8 L436.1,367.4 L438.4,368.9 L440.7,370.5 L442.9,372.0 L445.2,373.5 L447.5,374.9 L449.7,376.3 L452.0,377.7 L454.2,379.1 L456.5,380.4 L458.8,381.7 L461.0,383.0 L463.3,384.3 L465.6,385.5 L467.8,386.7 L470.1,387.9 L472.3,389.1 L474.6,390.2 L476.9,391.4 L479.1,392.5 L481.4,393.6 L483.7,394.7 L485.9,395.7 L488.2,396.8 L490.4,397.9 L492.7,398.9 L495.0,399.9 L497.2,400.9 L499.5,401.9 L501.8,402.9 L504.0,403.9 L506.3,404.8 L508.5,405.8 L510.8,406.7 L513.1,407.6 L515.3,408.5 L517.6,409.4 L519.9,410.3 L522.1,411.2 L524.4,412.1 L526.6,412.9 L528.9,413.8 L531.2,414.6 L533.4,415.4 L535.7,416.2 L538.0,417.0 L540.2,417.8 L542.5,418.6 L544.7,419.4 L547.0,420.1 L549.3,420.9 L551.5,421.6 L553.8,422.4 L556.1,423.1 L558.3,423.8 L560.6,424.5 L562.8,425.2 L565.1,425.9 L567.4,426.5 L569.6,427.2 L571.9,427.9 L574.2,428.5 L576.4,429.1 L578.7,429.8 L580.9,430.4 L583.2,431.0 L585.5,431.6 L587.7,432.2 L590.0,432.8 L592.3,433.4 L594.5,433.9 L596.8,434.5 L599.0,435.0 L601.3,435.6 L603.6,436.1 L605.8,436.6 L608.1,437.1 L610.4,437.7 L612.6,438.2 L614.9,438.6 L617.1,439.1 L619.4,439.6 L621.7,440.1 L623.9,440.5 L626.2,441.0 L628.5,441.4 L630.7,441.8 L633.0,442.2 L635.2,442.6 L637.5,443.0 L639.8,443.4 L642.0,443.8 L644.3,444.2 L646.6,444.5 L648.8,444.9 L651.1,445.2 L653.3,445.6 L655.6,445.9 L657.9,446.2 L660.1,446.5 L662.4,446.8 L664.7,447.1 L666.9,447.4 L669.2,447.7 L671.4,447.9 L673.7,448.2 L676.0,448.4 L678.2,448.7 L680.5,448.9 L682.8,449.1 L685.0,449.4 L687.3,449.6 L689.5,449.8 L691.8,450.0 L694.1,450.2 L696.3,450.3 L698.6,450.5" fill="none" stroke="#F5781C" stroke-width="3.6" stroke-linejoin="round" stroke-linecap="butt" clip-path="url(#clipA)"/>
<path d="M112.6,132.7 L114.9,127.9 L117.1,123.0 L119.4,118.0 L121.7,113.0 L123.9,108.0 L126.2,103.1 L128.4,98.3 L130.7,93.5 L133.0,88.9 L135.2,84.4 L137.5,80.1 L139.8,75.9 L142.0,72.0 L144.3,68.3 L146.5,64.8 L148.8,61.6 L151.1,58.7 L153.3,56.0 L155.6,53.6 L157.9,51.5 L160.1,49.6 L162.4,48.0 L164.6,46.6 L166.9,45.4 L169.2,44.5 L171.4,43.7 L173.7,43.2 L176.0,42.8 L178.2,42.6 L180.5,42.6 L182.7,42.8 L185.0,43.1 L187.3,43.7 L189.5,44.4 L191.8,45.3 L194.1,46.3 L196.3,47.5 L198.6,48.9 L200.8,50.4 L203.1,52.1 L205.4,53.9 L207.6,55.9 L209.9,57.9 L212.2,60.1 L214.4,62.5 L216.7,64.9 L218.9,67.5 L221.2,70.2 L223.5,73.0 L225.7,75.9 L228.0,78.9 L230.3,82.0 L232.5,85.2 L234.8,88.4 L237.0,91.8 L239.3,95.2 L241.6,98.7 L243.8,102.3 L246.1,105.9 L248.4,109.6 L250.6,113.4 L252.9,117.2 L255.1,121.1 L257.4,125.0 L259.7,128.9 L261.9,132.9 L264.2,136.9 L266.5,141.0 L268.7,145.0 L271.0,149.1 L273.2,153.2 L275.5,157.4 L277.8,161.5 L280.0,165.6 L282.3,169.8 L284.6,173.9 L286.8,178.0 L289.1,182.1 L291.3,186.2 L293.6,190.3 L295.9,194.3 L298.1,198.4 L300.4,202.4 L302.7,206.3 L304.9,210.2 L307.2,214.1 L309.4,217.9 L311.7,221.7 L314.0,225.4 L316.2,229.1 L318.5,232.7 L320.8,236.3 L323.0,239.8 L325.3,243.2 L327.5,246.6 L329.8,249.9 L332.1,253.2 L334.3,256.3 L336.6,259.4 L338.9,262.5 L341.1,265.4 L343.4,268.3 L345.6,271.1 L347.9,273.8 L350.2,276.5 L352.4,279.2 L354.7,281.8 L357.0,284.4 L359.2,287.0 L361.5,289.5 L363.7,292.1 L366.0,294.6 L368.3,297.2 L370.5,299.7 L372.8,302.2 L375.1,304.7 L377.3,307.1 L379.6,309.6 L381.8,312.0 L384.1,314.4 L386.4,316.8 L388.6,319.2 L390.9,321.5 L393.2,323.8 L395.4,326.1 L397.7,328.4 L399.9,330.6 L402.2,332.8 L404.5,335.0 L406.7,337.1 L409.0,339.2 L411.3,341.3 L413.5,343.4 L415.8,345.4 L418.0,347.3 L420.3,349.3 L422.6,351.2 L424.8,353.0 L427.1,354.8 L429.4,356.6 L431.6,358.4 L433.9,360.1 L436.1,361.7 L438.4,363.4 L440.7,365.0 L442.9,366.5 L445.2,368.1 L447.5,369.6 L449.7,371.1 L452.0,372.5 L454.2,373.9 L456.5,375.3 L458.8,376.7 L461.0,378.0 L463.3,379.3 L465.6,380.6 L467.8,381.9 L470.1,383.2 L472.3,384.4 L474.6,385.6 L476.9,386.8 L479.1,388.0 L481.4,389.2 L483.7,390.3 L485.9,391.5 L488.2,392.6 L490.4,393.7 L492.7,394.8 L495.0,395.9 L497.2,397.0 L499.5,398.0 L501.8,399.1 L504.0,400.1 L506.3,401.1 L508.5,402.1 L510.8,403.1 L513.1,404.1 L515.3,405.1 L517.6,406.1 L519.9,407.0 L522.1,407.9 L524.4,408.9 L526.6,409.8 L528.9,410.7 L531.2,411.5 L533.4,412.4 L535.7,413.3 L538.0,414.1 L540.2,415.0 L542.5,415.8 L544.7,416.6 L547.0,417.4 L549.3,418.2 L551.5,419.0 L553.8,419.8 L556.1,420.6 L558.3,421.3 L560.6,422.1 L562.8,422.8 L565.1,423.5 L567.4,424.2 L569.6,425.0 L571.9,425.6 L574.2,426.3 L576.4,427.0 L578.7,427.7 L580.9,428.3 L583.2,429.0 L585.5,429.6 L587.7,430.3 L590.0,430.9 L592.3,431.5 L594.5,432.1 L596.8,432.7 L599.0,433.3 L601.3,433.9 L603.6,434.4 L605.8,435.0 L608.1,435.5 L610.4,436.1 L612.6,436.6 L614.9,437.1 L617.1,437.6 L619.4,438.1 L621.7,438.6 L623.9,439.1 L626.2,439.6 L628.5,440.0 L630.7,440.5 L633.0,440.9 L635.2,441.4 L637.5,441.8 L639.8,442.2 L642.0,442.6 L644.3,443.0 L646.6,443.4 L648.8,443.8 L651.1,444.2 L653.3,444.5 L655.6,444.9 L657.9,445.2 L660.1,445.6 L662.4,445.9 L664.7,446.2 L666.9,446.5 L669.2,446.8 L671.4,447.1 L673.7,447.4 L676.0,447.7 L678.2,447.9 L680.5,448.2 L682.8,448.4 L685.0,448.7 L687.3,448.9 L689.5,449.1 L691.8,449.3 L694.1,449.5 L696.3,449.7 L698.6,449.9" fill="none" stroke="#4B9BD2" stroke-width="3.6" stroke-linejoin="round" stroke-linecap="butt" clip-path="url(#clipA)"/>
<path d="M112.6,125.9 L114.9,121.0 L117.1,116.1 L119.4,111.1 L121.7,106.1 L123.9,101.2 L126.2,96.2 L128.4,91.4 L130.7,86.6 L133.0,81.9 L135.2,77.4 L137.5,73.0 L139.8,68.8 L142.0,64.8 L144.3,61.0 L146.5,57.5 L148.8,54.2 L151.1,51.2 L153.3,48.4 L155.6,45.9 L157.9,43.5 L160.1,41.5 L162.4,39.6 L164.6,38.0 L166.9,36.6 L169.2,35.4 L171.4,34.4 L173.7,33.7 L176.0,33.1 L178.2,32.8 L180.5,32.7 L182.7,32.8 L185.0,33.1 L187.3,33.5 L189.5,34.2 L191.8,35.0 L194.1,36.0 L196.3,37.2 L198.6,38.5 L200.8,40.0 L203.1,41.6 L205.4,43.4 L207.6,45.4 L209.9,47.4 L212.2,49.6 L214.4,52.0 L216.7,54.4 L218.9,57.0 L221.2,59.7 L223.5,62.5 L225.7,65.4 L228.0,68.5 L230.3,71.6 L232.5,74.8 L234.8,78.1 L237.0,81.5 L239.3,85.0 L241.6,88.6 L243.8,92.2 L246.1,95.9 L248.4,99.7 L250.6,103.5 L252.9,107.4 L255.1,111.4 L257.4,115.4 L259.7,119.4 L261.9,123.5 L264.2,127.6 L266.5,131.7 L268.7,135.9 L271.0,140.1 L273.2,144.3 L275.5,148.6 L277.8,152.8 L280.0,157.1 L282.3,161.3 L284.6,165.6 L286.8,169.8 L289.1,174.0 L291.3,178.3 L293.6,182.4 L295.9,186.6 L298.1,190.8 L300.4,194.9 L302.7,199.0 L304.9,203.0 L307.2,207.0 L309.4,210.9 L311.7,214.8 L314.0,218.7 L316.2,222.5 L318.5,226.2 L320.8,229.9 L323.0,233.5 L325.3,237.1 L327.5,240.5 L329.8,244.0 L332.1,247.3 L334.3,250.6 L336.6,253.8 L338.9,256.9 L341.1,259.9 L343.4,262.9 L345.6,265.8 L347.9,268.6 L350.2,271.4 L352.4,274.1 L354.7,276.8 L357.0,279.5 L359.2,282.2 L361.5,284.8 L363.7,287.5 L366.0,290.1 L368.3,292.7 L370.5,295.3 L372.8,297.8 L375.1,300.4 L377.3,302.9 L379.6,305.4 L381.8,307.9 L384.1,310.4 L386.4,312.9 L388.6,315.3 L390.9,317.7 L393.2,320.1 L395.4,322.4 L397.7,324.8 L399.9,327.1 L402.2,329.3 L404.5,331.6 L406.7,333.8 L409.0,335.9 L411.3,338.0 L413.5,340.1 L415.8,342.2 L418.0,344.2 L420.3,346.2 L422.6,348.1 L424.8,350.0 L427.1,351.9 L429.4,353.7 L431.6,355.5 L433.9,357.2 L436.1,358.9 L438.4,360.6 L440.7,362.2 L442.9,363.9 L445.2,365.4 L447.5,367.0 L449.7,368.5 L452.0,369.9 L454.2,371.4 L456.5,372.8 L458.8,374.2 L461.0,375.6 L463.3,376.9 L465.6,378.3 L467.8,379.6 L470.1,380.9 L472.3,382.1 L474.6,383.4 L476.9,384.6 L479.1,385.8 L481.4,387.1 L483.7,388.2 L485.9,389.4 L488.2,390.6 L490.4,391.7 L492.7,392.9 L495.0,394.0 L497.2,395.1 L499.5,396.2 L501.8,397.2 L504.0,398.3 L506.3,399.4 L508.5,400.4 L510.8,401.4 L513.1,402.4 L515.3,403.4 L517.6,404.4 L519.9,405.4 L522.1,406.3 L524.4,407.3 L526.6,408.2 L528.9,409.2 L531.2,410.1 L533.4,411.0 L535.7,411.9 L538.0,412.7 L540.2,413.6 L542.5,414.4 L544.7,415.3 L547.0,416.1 L549.3,416.9 L551.5,417.8 L553.8,418.6 L556.1,419.3 L558.3,420.1 L560.6,420.9 L562.8,421.6 L565.1,422.4 L567.4,423.1 L569.6,423.9 L571.9,424.6 L574.2,425.3 L576.4,426.0 L578.7,426.7 L580.9,427.3 L583.2,428.0 L585.5,428.7 L587.7,429.3 L590.0,430.0 L592.3,430.6 L594.5,431.2 L596.8,431.8 L599.0,432.4 L601.3,433.0 L603.6,433.6 L605.8,434.2 L608.1,434.7 L610.4,435.3 L612.6,435.8 L614.9,436.4 L617.1,436.9 L619.4,437.4 L621.7,437.9 L623.9,438.4 L626.2,438.9 L628.5,439.4 L630.7,439.9 L633.0,440.3 L635.2,440.8 L637.5,441.2 L639.8,441.6 L642.0,442.1 L644.3,442.5 L646.6,442.9 L648.8,443.3 L651.1,443.7 L653.3,444.0 L655.6,444.4 L657.9,444.7 L660.1,445.1 L662.4,445.4 L664.7,445.8 L666.9,446.1 L669.2,446.4 L671.4,446.7 L673.7,447.0 L676.0,447.3 L678.2,447.5 L680.5,447.8 L682.8,448.0 L685.0,448.3 L687.3,448.5 L689.5,448.8 L691.8,449.0 L694.1,449.2 L696.3,449.4 L698.6,449.6" fill="none" stroke="#3CB414" stroke-width="3.6" stroke-linejoin="round" stroke-linecap="butt" clip-path="url(#clipA)"/>
<text x="54.20" y="31.16" font-size="23.70" font-weight="bold" letter-spacing="-0.102" stroke="#000" stroke-width="0.38" stroke-linejoin="round" >2500</text>
<text x="54.20" y="119.06" font-size="23.70" font-weight="bold" letter-spacing="-0.102" stroke="#000" stroke-width="0.38" stroke-linejoin="round" >2000</text>
<text x="54.20" y="206.96" font-size="23.70" font-weight="bold" letter-spacing="-0.102" stroke="#000" stroke-width="0.38" stroke-linejoin="round" >1500</text>
<text x="54.20" y="294.86" font-size="23.70" font-weight="bold" letter-spacing="-0.102" stroke="#000" stroke-width="0.38" stroke-linejoin="round" >1000</text>
<text x="66.30" y="382.76" font-size="23.70" font-weight="bold" letter-spacing="-0.278" stroke="#000" stroke-width="0.38" stroke-linejoin="round" >500</text>
<text x="91.00" y="470.66" font-size="23.70" font-weight="bold" letter-spacing="0.000" stroke="#000" stroke-width="0.38" stroke-linejoin="round" >0</text>
<text x="99.20" y="493.96" font-size="23.56" font-weight="bold" letter-spacing="-0.367" stroke="#000" stroke-width="0.38" stroke-linejoin="round" >510</text>
<text x="293.03" y="493.96" font-size="23.56" font-weight="bold" letter-spacing="-0.367" stroke="#000" stroke-width="0.38" stroke-linejoin="round" >540</text>
<text x="486.87" y="493.96" font-size="23.56" font-weight="bold" letter-spacing="-0.367" stroke="#000" stroke-width="0.38" stroke-linejoin="round" >570</text>
<text x="680.70" y="493.96" font-size="23.56" font-weight="bold" letter-spacing="-0.367" stroke="#000" stroke-width="0.38" stroke-linejoin="round" >600</text>
<text x="319.30" y="531.72" font-size="22.62" font-weight="bold" letter-spacing="0.728" stroke="#000" stroke-width="0.36" stroke-linejoin="round" >Wavelength (nm)</text>
<text transform="translate(29.26,365.00) rotate(-90)" font-size="22.97" font-weight="bold" letter-spacing="-0.174" stroke="#000" stroke-width="0.37" stroke-linejoin="round" >Fluorescence intensity (a.u.)</text>
<text x="20.80" y="23.30" font-size="23.94" font-weight="bold" letter-spacing="0.000" stroke="#000" stroke-width="0.38" stroke-linejoin="round" >A</text>
<text x="340.40" y="53.86" font-size="22.58" font-weight="normal" letter-spacing="1.444" stroke="#000" stroke-width="0.18" stroke-linejoin="round" >OTA:</text>
<text x="402.80" y="54.07" font-size="22.67" font-weight="normal" letter-spacing="0.822" stroke="#000" stroke-width="0.18" stroke-linejoin="round" >2500</text>
<text x="458.30" y="54.00" font-size="22.29" font-weight="normal" letter-spacing="0.117" stroke="#000" stroke-width="0.18" stroke-linejoin="round" >nM</text>
<text x="431.70" y="133.67" font-size="22.67" font-weight="normal" letter-spacing="0.000" stroke="#000" stroke-width="0.18" stroke-linejoin="round" >0</text>
<text x="450.20" y="133.50" font-size="22.14" font-weight="normal" letter-spacing="0.729" stroke="#000" stroke-width="0.18" stroke-linejoin="round" >nM</text>
<rect x="450.3" y="72" width="3" height="43.3" fill="#000"/>
<path d="M451.4,59.8 L456,74 L451.8,73.2 L445.7,74 Z" fill="#000"/>
<rect x="85" y="595.3" width="6" height="442.5" fill="#000"/>
<rect x="85" y="1031.7" width="577.3" height="6" fill="#000"/>
<rect x="80.2" y="1031.60" width="6" height="6" fill="#000"/>
<rect x="80.2" y="896.50" width="6" height="6" fill="#000"/>
<rect x="80.2" y="761.40" width="6" height="6" fill="#000"/>
<rect x="80.2" y="626.30" width="6" height="6" fill="#000"/>
<rect x="95.70" y="1034" width="6" height="7.7" fill="#000"/>
<rect x="204.06" y="1034" width="6" height="7.7" fill="#000"/>
<rect x="312.42" y="1034" width="6" height="7.7" fill="#000"/>
<rect x="420.78" y="1034" width="6" height="7.7" fill="#000"/>
<rect x="529.14" y="1034" width="6" height="7.7" fill="#000"/>
<rect x="637.50" y="1034" width="6" height="7.7" fill="#000"/>
<line x1="100.42" y1="974.32" x2="101.55" y2="965.97" stroke="#000" stroke-width="5.7" stroke-linecap="round"/>
<line x1="110.14" y1="954.67" x2="115.44" y2="937.88" stroke="#000" stroke-width="5.7" stroke-linecap="round"/>
<line x1="120.87" y1="927.80" x2="130.19" y2="912.03" stroke="#000" stroke-width="5.7" stroke-linecap="round"/>
<line x1="135.26" y1="901.72" x2="141.19" y2="889.15" stroke="#000" stroke-width="5.7" stroke-linecap="round"/>
<line x1="142.84" y1="885.51" x2="162.92" y2="839.52" stroke="#000" stroke-width="5.7" stroke-linecap="round"/>
<line x1="165.46" y1="836.72" x2="226.98" y2="802.52" stroke="#000" stroke-width="5.7" stroke-linecap="round"/>
<line x1="230.64" y1="800.96" x2="306.35" y2="777.36" stroke="#000" stroke-width="5.7" stroke-linecap="round"/>
<line x1="317.25" y1="773.73" x2="415.08" y2="730.83" stroke="#000" stroke-width="5.7" stroke-linecap="round"/>
<line x1="425.51" y1="726.01" x2="523.91" y2="669.18" stroke="#000" stroke-width="5.7" stroke-linecap="round"/>
<line x1="534.11" y1="664.10" x2="631.13" y2="648.07" stroke="#000" stroke-width="5.7" stroke-linecap="round"/>
<rect x="94.10" y="984.40" width="9.2" height="9.2" fill="#000"/>
<rect x="94.75" y="977.65" width="9.2" height="9.2" fill="#000"/>
<rect x="97.35" y="958.40" width="9.2" height="9.2" fill="#000"/>
<rect x="100.60" y="952.32" width="9.2" height="9.2" fill="#000"/>
<path d="M109.54,949.49 V963.67 M104.74,949.49 h9.6 M104.74,963.67 h9.6" stroke="#000" stroke-width="1.8" fill="none"/>
<rect x="104.94" y="951.98" width="9.2" height="9.2" fill="#000"/>
<rect x="111.44" y="931.38" width="9.2" height="9.2" fill="#000"/>
<rect x="126.61" y="905.71" width="9.2" height="9.2" fill="#000"/>
<path d="M142.04,880.25 V894.43 M137.24,880.25 h9.6 M137.24,894.43 h9.6" stroke="#000" stroke-width="1.8" fill="none"/>
<rect x="137.44" y="882.74" width="9.2" height="9.2" fill="#000"/>
<path d="M163.72,832.39 V842.99 M158.92,832.39 h9.6 M158.92,842.99 h9.6" stroke="#000" stroke-width="1.8" fill="none"/>
<rect x="159.12" y="833.09" width="9.2" height="9.2" fill="#000"/>
<path d="M228.73,796.25 V806.85 M223.93,796.25 h9.6 M223.93,806.85 h9.6" stroke="#000" stroke-width="1.8" fill="none"/>
<rect x="224.13" y="796.95" width="9.2" height="9.2" fill="#000"/>
<path d="M315.42,767.10 V781.96 M310.62,767.10 h9.6 M310.62,781.96 h9.6" stroke="#000" stroke-width="1.8" fill="none"/>
<rect x="310.82" y="769.93" width="9.2" height="9.2" fill="#000"/>
<path d="M423.78,721.71 V732.31 M418.98,721.71 h9.6 M418.98,732.31 h9.6" stroke="#000" stroke-width="1.8" fill="none"/>
<rect x="419.18" y="722.41" width="9.2" height="9.2" fill="#000"/>
<path d="M532.14,659.13 V669.73 M527.34,659.13 h9.6 M527.34,669.73 h9.6" stroke="#000" stroke-width="1.8" fill="none"/>
<rect x="527.54" y="659.83" width="9.2" height="9.2" fill="#000"/>
<path d="M640.50,638.76 V654.29 M635.70,638.76 h9.6 M635.70,654.29 h9.6" stroke="#000" stroke-width="1.8" fill="none"/>
<rect x="635.90" y="641.93" width="9.2" height="9.2" fill="#000"/>
<text x="30.30" y="636.29" font-size="21.48" font-weight="bold" letter-spacing="0.212" stroke="#000" stroke-width="0.34" stroke-linejoin="round" >2400</text>
<text x="30.30" y="771.39" font-size="21.48" font-weight="bold" letter-spacing="0.212" stroke="#000" stroke-width="0.34" stroke-linejoin="round" >2000</text>
<text x="31.10" y="906.49" font-size="21.48" font-weight="bold" letter-spacing="-0.054" stroke="#000" stroke-width="0.34" stroke-linejoin="round" >1600</text>
<text x="31.10" y="1041.59" font-size="21.48" font-weight="bold" letter-spacing="-0.054" stroke="#000" stroke-width="0.34" stroke-linejoin="round" >1200</text>
<text x="93.70" y="1063.78" font-size="21.78" font-weight="bold" letter-spacing="0.000" stroke="#000" stroke-width="0.35" stroke-linejoin="round" >0</text>
<text x="190.71" y="1063.78" font-size="21.78" font-weight="bold" letter-spacing="0.017" stroke="#000" stroke-width="0.35" stroke-linejoin="round" >500</text>
<text x="293.52" y="1063.78" font-size="21.78" font-weight="bold" letter-spacing="0.081" stroke="#000" stroke-width="0.35" stroke-linejoin="round" >1000</text>
<text x="401.88" y="1063.78" font-size="21.78" font-weight="bold" letter-spacing="0.081" stroke="#000" stroke-width="0.35" stroke-linejoin="round" >1500</text>
<text x="510.24" y="1063.78" font-size="21.78" font-weight="bold" letter-spacing="0.081" stroke="#000" stroke-width="0.35" stroke-linejoin="round" >2000</text>
<text x="618.60" y="1063.78" font-size="21.78" font-weight="bold" letter-spacing="0.081" stroke="#000" stroke-width="0.35" stroke-linejoin="round" >2500</text>
<text x="323.90" y="1100.55" font-size="22.37" font-weight="bold" letter-spacing="0.386" stroke="#000" stroke-width="0.36" stroke-linejoin="round" >OTA (nM)</text>
<text transform="translate(21.31,940.60) rotate(-90)" font-size="20.88" font-weight="bold" letter-spacing="0.118" stroke="#000" stroke-width="0.33" stroke-linejoin="round" >Fluorescence intensity (a.u.)</text>
<text x="4.70" y="617.88" font-size="23.48" font-weight="bold" letter-spacing="0.000" stroke="#000" stroke-width="0.38" stroke-linejoin="round" >B</text>
<rect x="361.3" y="775" width="3.7" height="227.5" fill="#000"/>
<rect x="361.3" y="998.8" width="298" height="3.7" fill="#000"/>
<rect x="358" y="990.90" width="4" height="3.6" fill="#000"/>
<rect x="358" y="921.30" width="4" height="3.6" fill="#000"/>
<rect x="358" y="851.70" width="4" height="3.6" fill="#000"/>
<rect x="358" y="782.10" width="4" height="3.6" fill="#000"/>
<rect x="373.70" y="1000" width="3.6" height="4.8" fill="#000"/>
<rect x="462.40" y="1000" width="3.6" height="4.8" fill="#000"/>
<rect x="551.10" y="1000" width="3.6" height="4.8" fill="#000"/>
<rect x="639.80" y="1000" width="3.6" height="4.8" fill="#000"/>
<rect x="375.50" y="986.12" width="5.5" height="7.6" fill="#000"/>
<path d="M389.25,957.58 V972.42 M386.45,957.58 h5.6 M386.45,972.42 h5.6" stroke="#000" stroke-width="1.45" fill="none"/>
<rect x="386.50" y="962.20" width="5.5" height="5.6" fill="#000"/>
<path d="M402.46,952.98 V958.55 M399.66,952.98 h5.6 M399.66,958.55 h5.6" stroke="#000" stroke-width="1.45" fill="none"/>
<rect x="399.71" y="952.97" width="5.5" height="5.6" fill="#000"/>
<path d="M420.03,945.37 V964.86 M417.23,945.37 h5.6 M417.23,964.86 h5.6" stroke="#000" stroke-width="1.45" fill="none"/>
<rect x="417.28" y="952.32" width="5.5" height="5.6" fill="#000"/>
<path d="M446.46,923.10 V927.74 M443.66,923.10 h5.6 M443.66,927.74 h5.6" stroke="#000" stroke-width="1.45" fill="none"/>
<rect x="443.71" y="922.72" width="5.5" height="5.4" fill="#000"/>
<path d="M508.55,887.51 V895.86 M505.75,887.51 h5.6 M505.75,895.86 h5.6" stroke="#000" stroke-width="1.45" fill="none"/>
<rect x="505.80" y="888.99" width="5.5" height="5.4" fill="#000"/>
<path d="M552.90,849.97 V869.46 M550.10,849.97 h5.6 M550.10,869.46 h5.6" stroke="#000" stroke-width="1.45" fill="none"/>
<rect x="550.15" y="857.02" width="5.5" height="5.4" fill="#000"/>
<path d="M641.60,790.40 V793.18 M638.80,790.40 h5.6 M638.80,793.18 h5.6" stroke="#000" stroke-width="1.45" fill="none"/>
<rect x="638.85" y="789.29" width="5.5" height="5.0" fill="#000"/>
<line x1="378.5" y1="977.9" x2="641.5" y2="792.4" stroke="#F2060C" stroke-width="5.2" stroke-linecap="round"/>
<text x="332.80" y="996.48" font-size="11.70" font-weight="bold" letter-spacing="-0.269" stroke="#000" stroke-width="0.19" stroke-linejoin="round" >1350</text>
<text x="332.80" y="926.88" font-size="11.70" font-weight="bold" letter-spacing="-0.269" stroke="#000" stroke-width="0.19" stroke-linejoin="round" >1500</text>
<text x="332.80" y="857.28" font-size="11.70" font-weight="bold" letter-spacing="-0.269" stroke="#000" stroke-width="0.19" stroke-linejoin="round" >1650</text>
<text x="332.80" y="787.68" font-size="11.70" font-weight="bold" letter-spacing="-0.269" stroke="#000" stroke-width="0.19" stroke-linejoin="round" >1800</text>
<text x="372.90" y="1017.08" font-size="11.70" font-weight="bold" letter-spacing="0.000" stroke="#000" stroke-width="0.19" stroke-linejoin="round" >0</text>
<text x="456.30" y="1017.08" font-size="11.70" font-weight="bold" letter-spacing="-0.478" stroke="#000" stroke-width="0.19" stroke-linejoin="round" >100</text>
<text x="545.00" y="1017.08" font-size="11.70" font-weight="bold" letter-spacing="-0.478" stroke="#000" stroke-width="0.19" stroke-linejoin="round" >200</text>
<text x="633.70" y="1017.08" font-size="11.70" font-weight="bold" letter-spacing="-0.478" stroke="#000" stroke-width="0.19" stroke-linejoin="round" >300</text>
<text x="480.00" y="1028.18" font-size="12.78" font-weight="bold" letter-spacing="0.684" stroke="#000" stroke-width="0.20" stroke-linejoin="round" >OTA (nM)</text>
<text transform="translate(327.21,964.00) rotate(-90)" font-size="12.97" font-weight="bold" letter-spacing="-0.073" stroke="#000" stroke-width="0.21" stroke-linejoin="round" >Fluorescence intensity (a.u.)</text>
</svg>
</body></html>
